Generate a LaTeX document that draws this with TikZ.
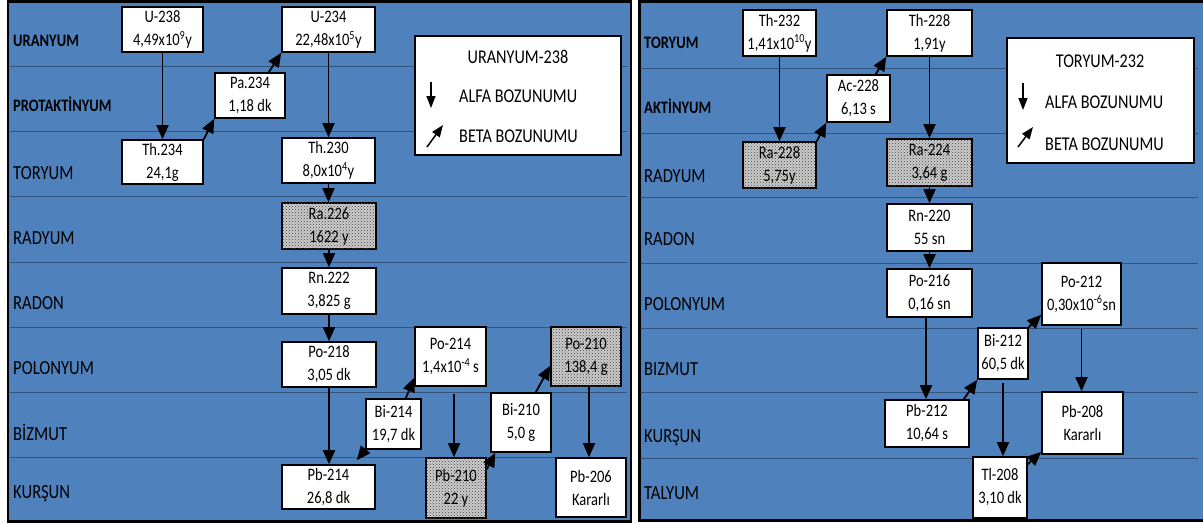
\documentclass[tikz,border=0pt]{standalone}
\usepackage{fontspec}
\setmainfont{Carlito}[FakeStretch=0.83]
\usetikzlibrary{arrows.meta,patterns}
\definecolor{panelblue}{RGB}{79,129,189}
\definecolor{rowline}{RGB}{50,84,125}

\begin{document}
\begin{tikzpicture}[x=1pt,y=-1pt,
  box/.style={draw=black, line width=1.6pt, fill=white, align=center, inner sep=0pt,
    font=\fontsize{17.5}{23}\selectfont},
  halo/.style={box, fill=gray!40, postaction={pattern=crosshatch dots, pattern color=black!75}},
  decay/.style={line width=1.8pt, -{Triangle[length=14pt,width=12pt]}},
  keyarrow/.style={line width=1.5pt, -{Triangle[length=12pt,width=9pt]}},
  rowname/.style={anchor=base west, inner sep=0pt, font=\fontsize{20}{20}\selectfont},
  rowbold/.style={anchor=base west, inner sep=0pt, font=\fontsize{17.5}{17.5}\selectfont\bfseries},
  sep/.style={draw=rowline, line width=0.8pt},
  keybox/.style={draw=black, line width=1.8pt, fill=white, inner sep=0pt},
  keytext/.style={anchor=base west, inner sep=0pt, font=\fontsize{19.5}{19.5}\selectfont},
  keytitle/.style={anchor=base, inner sep=0pt, font=\fontsize{19.5}{19.5}\selectfont},
]
\useasboundingbox (0,0) rectangle (1203,523);
\fill[white] (0,0) rectangle (1203,523);

% panels
\draw[line width=2.5pt, fill=panelblue] (8,1.5) rectangle (631,521.5);
\draw[line width=2.5pt, fill=panelblue] (639.5,1.5) rectangle (1215,520.5);

% row separators
\foreach \y in {66,131,196,262,327,392,457} \draw[sep] (9.5,\y) -- (627,\y);
\foreach \y in {68,133,197,263,328,392,458} \draw[sep] (641,\y) -- (1198,\y);

% row names, uranium series
\node[rowbold] (l1) at (13,46) {URANYUM};
\node[rowbold] (l2) at (13,111) {PROTAKTİNYUM};
\node[rowname] (l3) at (13,179) {TORYUM};
\node[rowname] (l4) at (13,244) {RADYUM};
\node[rowname] (l5) at (13,309) {RADON};
\node[rowname] (l6) at (13,374) {POLONYUM};
\node[rowname] (l7) at (13,440) {BİZMUT};
\node[rowname] (l8) at (13,498) {KURŞUN};

% row names, thorium series
\node[rowbold] (r1) at (644,48) {TORYUM};
\node[rowbold] (r2) at (644,113) {AKTİNYUM};
\node[rowname] (r3) at (644,182) {RADYUM};
\node[rowname] (r4) at (644,245) {RADON};
\node[rowname] (r5) at (644,310) {POLONYUM};
\node[rowname] (r6) at (644,375) {BIZMUT};
\node[rowname] (r7) at (644,442) {KURŞUN};
\node[rowname] (r8) at (644,499) {TALYUM};

% uranium-238 series
\node[box, minimum width=81pt, minimum height=45pt] (u238) at (162.5,29.5) {U-238\\4,49x10\textsuperscript{9}y};
\node[box, minimum width=93pt, minimum height=45pt] (u234) at (328.5,29.5) {U-234\\22,48x10\textsuperscript{5}y};
\node[box, minimum width=70pt, minimum height=45pt] (pa234) at (250,95.5) {Pa.234\\1,18 dk};
\node[box, minimum width=81pt, minimum height=44pt] (th234) at (162.5,162) {Th.234\\24,1g};
\node[box, minimum width=93pt, minimum height=45pt] (th230) at (328.5,160.5) {Th.230\\8,0x10\textsuperscript{4}y};
\node[halo, minimum width=94pt, minimum height=46pt] (ra226) at (329,226) {Ra.226\\1622 y};
\node[box, minimum width=94pt, minimum height=46pt] (rn222) at (329,291) {Rn.222\\3,825 g};
\node[box, minimum width=94pt, minimum height=45pt] (po218) at (329,364.5) {Po-218\\3,05 dk};
\node[box, minimum width=93pt, minimum height=44pt] (pb214) at (328.5,487) {Pb-214\\26,8 dk};
\node[box, minimum width=55pt, minimum height=50pt] (bi214) at (393.5,424) {Bi-214\\19,7 dk};
\node[box, minimum width=71pt, minimum height=59pt] (po214) at (450.5,356.5) {Po-214\\1,4x10\textsuperscript{-4}\,s};
\node[halo, minimum width=60pt, minimum height=60pt] (pb210) at (456,488) {Pb-210\\22 y};
\node[box, minimum width=60pt, minimum height=59pt] (bi210) at (521,422.5) {Bi-210\\5,0 g};
\node[halo, minimum width=70pt, minimum height=59pt] (po210) at (586,356.5) {Po-210\\138,4 g};
\node[box, minimum width=70pt, minimum height=59pt] (pb206) at (591,487.5) {Pb-206\\Kararlı};

% alpha decays (down)
\draw[decay] (u238.south) -- (th234.north);
\draw[decay] (u234.south) -- (u234.south |- th230.north);
\draw[decay] (th230.south) -- (th230.south |- ra226.north);
\draw[decay] (ra226.south) -- (rn222.north);
\draw[decay] (rn222.south) -- (po218.north);
\draw[decay] (po218.south) -- (po218.south |- pb214.north);
\coordinate (po214out) at ([xshift=3.5pt,yshift=-7pt]po214.south);
\draw[decay] (po214out) -- (po214out |- pb210.north);
\coordinate (po210out) at ([xshift=3pt]po210.south);
\draw[decay] (po210out) -- (po210out |- pb206.north);

% beta decays (diagonal)
\draw[decay] (th234.north east) -- (pa234.south west);
\draw[decay] ([xshift=-17pt]pa234.north east) -- (u234.south west);
\draw[decay] (bi214.south west) -- ([xshift=-19pt,yshift=4pt]pb214.north east);
\draw[decay] ([xshift=-16pt]bi214.north east) -- ([yshift=9pt]po214.south west);
\draw[decay] ([yshift=-12pt]pb210.north east) -- ([xshift=5pt]bi210.south west);
\draw[decay] ([xshift=-16pt]bi210.north east) -- ([yshift=21pt]po210.south west);

% key, uranium series
\node[keybox, minimum width=206pt, minimum height=119pt] (keyU) at (518,95.5) {};
\node[keytitle] (keyUt) at (518,63) {URANYUM-238};
\node[keytext] (keyUa) at (459,102) {ALFA BOZUNUMU};
\node[keytext] (keyUb) at (459,142) {BETA BOZUNUMU};
\coordinate (kua1) at (431,82);
\coordinate (kua2) at (431,108);
\coordinate (kub1) at (427,147);
\coordinate (kub2) at (443,125);
\draw[keyarrow] (kua1) -- (kua2);
\draw[keyarrow] (kub1) -- (kub2);

% thorium-232 series
\node[box, minimum width=73pt, minimum height=46pt] (th232) at (779.5,33) {Th-232\\1,41x10\textsuperscript{10}y};
\node[box, minimum width=85pt, minimum height=46pt] (th228) at (929.5,33) {Th-228\\1,91y};
\node[box, minimum width=63pt, minimum height=47pt] (ac228) at (858.5,98.5) {Ac-228\\6,13 s};
\node[halo, minimum width=73pt, minimum height=46pt] (ra228) at (779.5,165) {Ra-228\\5,75y};
\node[halo, minimum width=85pt, minimum height=47pt] (ra224) at (929.5,162.5) {Ra-224\\3,64 g};
\node[box, minimum width=85pt, minimum height=47pt] (rn220) at (929.5,227.5) {Rn-220\\55 sn};
\node[box, minimum width=85pt, minimum height=48pt] (po216) at (929.5,293) {Po-216\\0,16 sn};
\node[box, minimum width=84pt, minimum height=47pt] (pb212) at (927,423.5) {Pb-212\\10,64 s};
\node[box, minimum width=50pt, minimum height=51pt] (bi212) at (1003,353.5) {Bi-212\\60,5 dk};
\node[box, minimum width=79pt, minimum height=62pt] (po212) at (1081.5,294) {Po-212\\0,30x10\textsuperscript{-6}sn};
\node[box, minimum width=81pt, minimum height=62pt] (pb208) at (1082.5,423) {Pb-208\\Kararlı};
\node[box, minimum width=54pt, minimum height=61pt] (tl208) at (1000,487.5) {Tl-208\\3,10 dk};

% alpha decays (down)
\draw[decay] (th232.south) -- (th232.south |- ra228.north);
\draw[decay] (th228.south) -- (th228.south |- ra224.north);
\draw[decay] (ra224.south) -- (rn220.north);
\draw[decay] (rn220.south) -- (po216.north);
\coordinate (po216out) at ([xshift=-3.5pt]po216.south);
\draw[decay] (po216out) -- (po216out |- pb212.north);
\coordinate (bi212out) at ([yshift=-3pt]bi212.south);
\draw[decay] (bi212out) -- (bi212out |- tl208.north);
\coordinate (po212out) at ([yshift=-3pt]po212.south);
\draw[decay] (po212out) -- (po212out |- pb208.north);

% beta decays (diagonal)
\draw[decay] (ra228.north east) -- (ac228.south west);
\draw[decay] ([xshift=-15pt]ac228.north east) -- (th228.south west);
\draw[decay] ([xshift=-6pt]pb212.north east) -- (bi212.south west);
\draw[decay] (bi212.north east) -- ([yshift=11pt]po212.south west);
\draw[decay] ([yshift=-8pt]tl208.north east) -- ([yshift=3pt]pb208.south west);

% key, thorium series
\node[keybox, minimum width=187pt, minimum height=125pt] (keyT) at (1100.5,100.5) {};
\node[keytitle] (keyTt) at (1100,67) {TORYUM-232};
\node[keytext] (keyTa) at (1045,108) {ALFA BOZUNUMU};
\node[keytext] (keyTb) at (1045,150) {BETA BOZUNUMU};
\coordinate (kta1) at (1023,83);
\coordinate (kta2) at (1023,110);
\coordinate (ktb1) at (1018,147);
\coordinate (ktb2) at (1033,127);
\draw[keyarrow] (kta1) -- (kta2);
\draw[keyarrow] (ktb1) -- (ktb2);
\end{tikzpicture}
\end{document}
